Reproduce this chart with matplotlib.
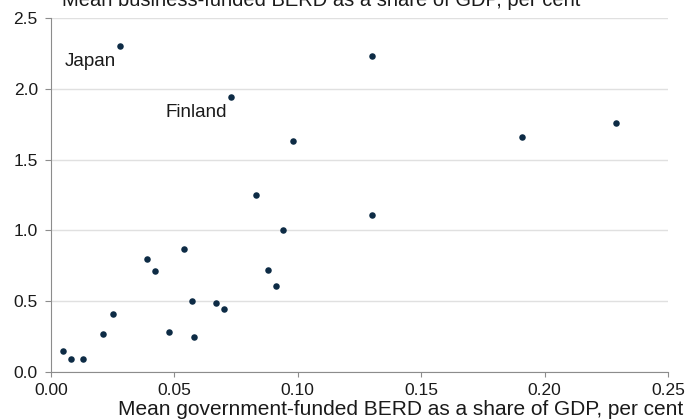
import numpy as np
import matplotlib.pyplot as plt

plt.rcParams['font.family'] = ['Liberation Sans', 'DejaVu Sans']

# mean government-funded vs business-funded BERD, % of GDP
gov_berd = [0.028, 0.073, 0.098, 0.130, 0.229, 0.191, 0.130, 0.083,
            0.005, 0.008, 0.013, 0.021, 0.025, 0.039, 0.042, 0.048,
            0.054, 0.057, 0.058, 0.067, 0.070, 0.088, 0.091, 0.094]
bus_berd = [2.30, 1.94, 1.63, 2.23, 1.76, 1.66, 1.11, 1.25,
            0.15, 0.09, 0.09, 0.27, 0.41, 0.80, 0.71, 0.28,
            0.87, 0.50, 0.25, 0.49, 0.445, 0.72, 0.61, 1.00]
labels = {0: "Japan", 1: "Finland"}

xticks = [0.00, 0.05, 0.10, 0.15, 0.20, 0.25]
yticks = [0.0, 0.5, 1.0, 1.5, 2.0, 2.5]

fig = plt.figure(figsize=(6.86, 4.19), dpi=100)
ax = fig.add_axes([0.0743, 0.1122, 0.8995, 0.845])

ax.scatter(gov_berd, bus_berd, s=22, color='#0d2b45', zorder=3, linewidths=0)

for i, name in labels.items():
    ax.annotate(name, (gov_berd[i], bus_berd[i]), xytext=(-3, -5),
                textcoords='offset points', ha='right', va='top',
                fontsize=13.5, color='#1a1a1a')

ax.set_xlim(0, 0.25)
ax.set_ylim(0, 2.5)
ax.set_xticks(xticks)
ax.set_xticklabels([f"{v:.2f}" for v in xticks])
ax.set_yticks(yticks)
ax.set_yticklabels([f"{v:.1f}" for v in yticks])

ax.grid(axis='y', color='#e0e0e0', linewidth=1)
ax.set_axisbelow(True)
for s in ['top', 'right']:
    ax.spines[s].set_visible(False)
for s in ['left', 'bottom']:
    ax.spines[s].set_color('#8c8c8c')
ax.tick_params(axis='both', colors='#8c8c8c', labelcolor='#1a1a1a',
               labelsize=12.5)
ax.tick_params(axis='x', length=3.5, pad=4.5)
ax.tick_params(axis='y', length=4.5, pad=5)

fig.text(62 / 686, 1 - 6 / 419, "Mean business-funded BERD as a share of GDP, per cent",
         fontsize=14.5, va='baseline', ha='left', color='#1a1a1a')
fig.text(683 / 686, 4 / 419, "Mean government-funded BERD as a share of GDP, per cent",
         fontsize=15, va='baseline', ha='right', color='#1a1a1a')

fig.savefig('out.png', dpi=100)
